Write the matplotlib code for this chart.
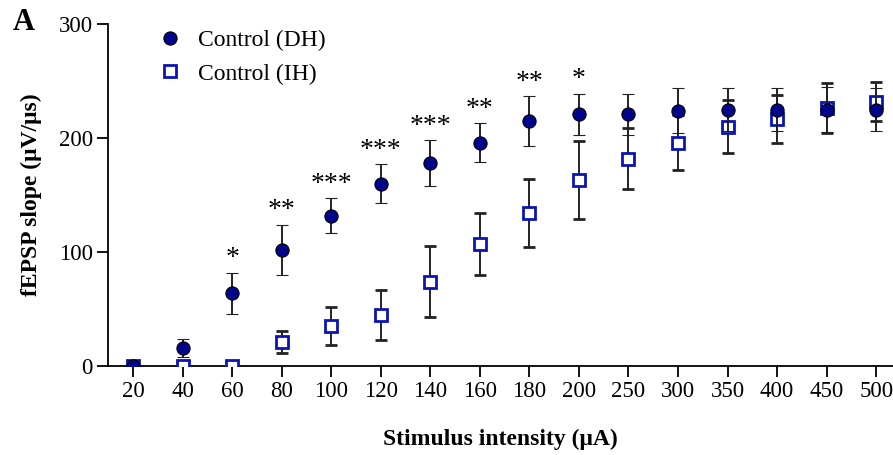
import matplotlib.pyplot as plt
from matplotlib.lines import Line2D
import numpy as np

plt.rcParams['font.family'] = ['Liberation Serif', 'DejaVu Serif']

# stimulus intensities (uA), plotted as evenly spaced categories
intensity = ['20', '40', '60', '80', '100', '120', '140', '160',
             '180', '200', '250', '300', '350', '400', '450', '500']

# mean fEPSP slope and SEM
dh_mean = [0, 16, 64, 102, 132, 160, 178, 196, 215, 221, 221, 224, 225, 225, 225, 225]
dh_err = [0, 8, 18, 22, 15, 17, 20, 17, 22, 18, 18, 20, 19, 19, 20, 19]
ih_mean = [0, 0, 0, 21, 35, 45, 74, 107, 134, 163, 182, 196, 210, 217, 226, 232]
ih_err = [0, 0, 0, 10, 17, 22, 31, 27, 30, 34, 27, 24, 23, 21, 22, 17]

stars = ['', '', '*', '**', '***', '***', '***', '**', '**', '*',
         '', '', '', '', '', '']

dh_color = '#00058c'
ih_color = '#0a14b4'

x = np.arange(len(intensity))

fig = plt.figure(figsize=(8.93, 4.55), dpi=100)
ax = fig.add_axes([108 / 893, 89 / 455, 785 / 893, 342 / 455])

# IH first so the DH circles sit on top
ax.errorbar(x, ih_mean, yerr=ih_err, fmt='s', ms=8.5, mfc='white', mec=ih_color,
            mew=2, ecolor='#222222', elinewidth=1.4, capsize=4.5, capthick=1.4,
            zorder=3)
ax.errorbar(x, dh_mean, yerr=dh_err, fmt='o', ms=9.5, mfc=dh_color, mec='black',
            mew=0.8, ecolor='#222222', elinewidth=1.4, capsize=4.5, capthick=1.4,
            zorder=4)

for xi, m, e, s in zip(x, dh_mean, dh_err, stars):
    if s:
        ax.text(xi, m + e + 1, s, ha='center', va='bottom', fontsize=20)

ax.set_xlim(-0.505, 15.34)
ax.set_ylim(0, 300)
ax.set_xticks(x)
ax.set_xticklabels(intensity)
ax.set_yticks([0, 100, 200, 300])
ax.tick_params(labelsize=16.5, width=1.3, length=8, direction='out', pad=3)
ax.spines['top'].set_visible(False)
ax.spines['right'].set_visible(False)
ax.spines['left'].set_linewidth(1.3)
ax.spines['bottom'].set_linewidth(1.3)

ax.set_xlabel('Stimulus intensity (\u03bcA)', fontsize=17, fontweight='bold', labelpad=19)
ax.set_ylabel('fEPSP slope (\u03bcV/\u03bcs)', fontsize=17, fontweight='bold', labelpad=12)

handles = [
    Line2D([], [], ls='none', marker='o', ms=9.5, mfc=dh_color, mec='black', mew=0.8),
    Line2D([], [], ls='none', marker='s', ms=8.5, mfc='white', mec=ih_color, mew=2),
]
ax.legend(handles, ['Control (DH)', 'Control (IH)'], loc='upper left',
          bbox_to_anchor=(0.034, 1.045), frameon=False, fontsize=17,
          handletextpad=0.6, labelspacing=0.5, handlelength=1.2)

fig.text(13 / 893, 1 - 23 / 455, 'A', fontsize=22, fontweight='bold', va='center', ha='left')

fig.savefig('out.png', dpi=100)
